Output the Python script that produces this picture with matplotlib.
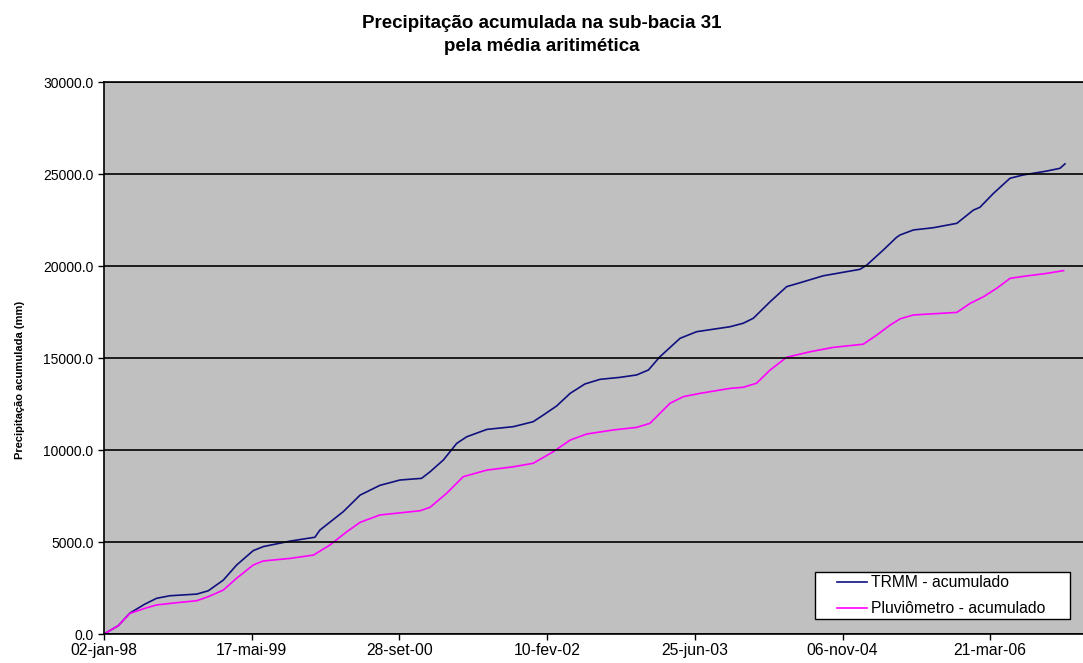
import datetime as dt
import numpy as np
import matplotlib
matplotlib.use("Agg")
import matplotlib.pyplot as plt
import matplotlib.ticker as mticker
from matplotlib.legend_handler import HandlerLine2D
import pandas as pd

# TRMM accumulated precipitation (mm)
trmm_dates = ["1998-01-02", "1998-02-19", "1998-03-31", "1998-05-21", "1998-06-29",
              "1998-08-13", "1998-11-12", "1998-12-21", "1999-02-10", "1999-03-27",
              "1999-05-22", "1999-06-25", "1999-09-24", "1999-12-17", "2000-01-03",
              "2000-03-22", "2000-05-18", "2000-07-24", "2000-09-30", "2000-12-12",
              "2001-01-10", "2001-02-24", "2001-04-10", "2001-05-14", "2001-07-21",
              "2001-10-19", "2001-12-25", "2002-01-28", "2002-03-14", "2002-04-29",
              "2002-06-18", "2002-08-08", "2002-10-15", "2002-12-10", "2003-01-19",
              "2003-02-27", "2003-05-06", "2003-07-01", "2003-10-22", "2003-12-06",
              "2004-01-09", "2004-03-06", "2004-05-01", "2004-06-15", "2004-09-02",
              "2005-01-04", "2005-01-27", "2005-03-24", "2005-05-08", "2005-05-20",
              "2005-07-04", "2005-09-09", "2005-11-28", "2006-01-23", "2006-02-14",
              "2006-04-01", "2006-05-27", "2006-07-11", "2006-09-28", "2006-11-12",
              "2006-11-29"]
trmm_vals = [0, 450, 1140, 1630, 1940,
             2080, 2170, 2350, 2930, 3750,
             4530, 4750, 5050, 5260, 5650,
             6650, 7550, 8080, 8370, 8460,
             8820, 9460, 10360, 10720, 11120,
             11270, 11540, 11900, 12390, 13080,
             13590, 13840, 13950, 14080, 14350,
             15070, 16070, 16430, 16700, 16890,
             17160, 18060, 18880, 19090, 19470,
             19820, 20050, 20870, 21560, 21690,
             21960, 22080, 22320, 23040, 23190,
             23950, 24770, 24950, 25160, 25310,
             25550]

# rain gauge accumulated precipitation (mm)
pluv_dates = ["1998-01-02", "1998-02-19", "1998-03-31", "1998-05-21", "1998-06-29",
              "1998-09-04", "1998-11-12", "1998-12-21", "1999-02-10", "1999-03-27",
              "1999-05-22", "1999-06-25", "1999-09-24", "1999-12-12", "2000-02-06",
              "2000-04-03", "2000-05-18", "2000-07-24", "2000-12-07", "2001-01-10",
              "2001-03-07", "2001-05-02", "2001-07-21", "2001-10-19", "2001-12-25",
              "2002-03-03", "2002-04-29", "2002-06-24", "2002-09-22", "2002-12-10",
              "2003-01-24", "2003-04-02", "2003-05-17", "2003-07-13", "2003-10-22",
              "2003-12-06", "2004-01-20", "2004-03-06", "2004-05-01", "2004-07-19",
              "2004-10-06", "2005-01-15", "2005-03-02", "2005-04-16", "2005-05-20",
              "2005-07-04", "2005-11-28", "2006-01-12", "2006-02-26", "2006-04-12",
              "2006-05-27", "2006-07-22", "2006-09-28", "2006-11-24"]
pluv_vals = [0, 450, 1120, 1400, 1580,
             1700, 1810, 2030, 2390, 3030,
             3750, 3970, 4110, 4290, 4840,
             5560, 6070, 6470, 6700, 6890,
             7650, 8550, 8910, 9090, 9280,
             9910, 10540, 10870, 11090, 11230,
             11450, 12540, 12900, 13080, 13350,
             13410, 13630, 14350, 15040, 15340,
             15580, 15750, 16250, 16790, 17130,
             17340, 17480, 17970, 18330, 18790,
             19330, 19460, 19600, 19750]

meses = ["jan", "fev", "mar", "abr", "mai", "jun", "jul", "ago", "set", "out", "nov", "dez"]


# legend line drawn only in the right part of the handle box (Excel-like padding)
class ShortLine(HandlerLine2D):
    def create_artists(self, legend, orig_handle, xdescent, ydescent, width, height,
                       fontsize, trans):
        arts = super().create_artists(legend, orig_handle, xdescent, ydescent, width,
                                      height, fontsize, trans)
        for a in arts:
            xd = np.asarray(a.get_xdata(), dtype=float)
            a.set_xdata(np.linspace(xd[-1] - 21.6, xd[-1], len(xd)))
        return arts


plt.rcParams['font.family'] = ['Liberation Sans', 'DejaVu Sans']

fig = plt.figure(figsize=(10.83, 6.63), dpi=100)
ax = fig.add_axes([0.096, 0.0437, 0.904, 0.8326])
ax.set_facecolor('#C0C0C0')

l1, = ax.plot(pd.to_datetime(trmm_dates), trmm_vals, color='#10107F', lw=1.2,
              label='TRMM - acumulado')
l2, = ax.plot(pd.to_datetime(pluv_dates), pluv_vals, color='#FF00FF', lw=1.2,
              label='Pluviômetro - acumulado')

start = dt.datetime(1998, 1, 2)
ax.set_xlim(start, start + dt.timedelta(days=3314))
ax.set_ylim(0, 30000)

ticks = [start + dt.timedelta(days=500 * i) for i in range(7)]
ax.set_xticks(ticks)
ax.set_xticklabels([f"{d.day:02d}-{meses[d.month - 1]}-{d.year % 100:02d}" for d in ticks])
ax.yaxis.set_major_locator(mticker.MultipleLocator(5000))
ax.yaxis.set_major_formatter(mticker.FormatStrFormatter('%.1f'))
ax.tick_params(direction='out', length=4.5, width=1)
ax.tick_params(axis='x', labelsize=11.3, pad=2)
ax.tick_params(axis='y', labelsize=10, pad=3)

ax.grid(axis='y', color='black', lw=1.2)
ax.set_axisbelow(False)
for s in ['left', 'bottom', 'top']:
    ax.spines[s].set_linewidth(1.2)
ax.spines['right'].set_visible(False)

ax.set_ylabel('Precipitação acumulada (mm)', fontsize=8, fontweight='bold')
ax.yaxis.set_label_coords(-0.081, 0.46)
fig.suptitle('Precipitação acumulada na sub-bacia 31\npela média aritimética',
             fontsize=13.5, fontweight='bold', y=0.977, va='top', linespacing=1.45)

leg = ax.legend(loc='lower left', bbox_to_anchor=(0.7263, 0.0272, 0.2605, 0.09),
                mode='expand', borderaxespad=0,
                fancybox=False, framealpha=1, edgecolor='black', fontsize=11.3,
                handlelength=3.12, handletextpad=0.26, borderpad=0.18, labelspacing=0.7,
                handler_map={l1: ShortLine(), l2: ShortLine()})
leg.get_frame().set_linewidth(1.0)

fig.savefig('out.png', dpi=100)
